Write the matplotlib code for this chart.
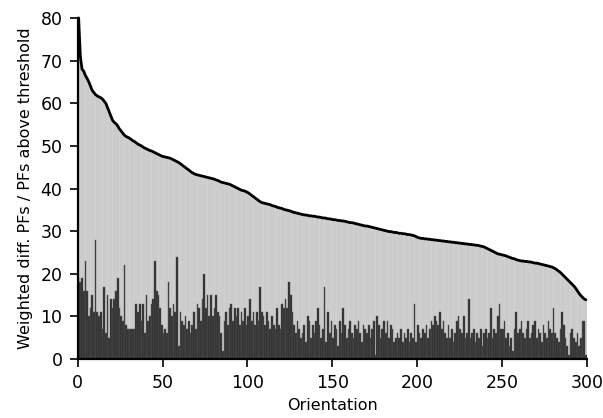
import numpy as np
import matplotlib
matplotlib.use("Agg")
import matplotlib.pyplot as plt

# Weighted difference of PFs per orientation (sorted, descending)
weighted_diff = [
    80.0, 71.0, 68.0, 67.5, 66.5, 65.8, 65.0, 64.0, 63.0, 62.5,
    62.0, 61.7, 61.5, 61.3, 61.0, 60.5, 60.0, 59.0, 58.0, 57.0,
    56.0, 55.5, 55.2, 54.7, 54.0, 53.5, 53.0, 52.5, 52.2, 52.0,
    51.8, 51.5, 51.2, 51.0, 50.7, 50.4, 50.2, 50.0, 49.7, 49.5,
    49.3, 49.1, 48.9, 48.8, 48.6, 48.4, 48.2, 48.0, 47.8, 47.6,
    47.5, 47.4, 47.3, 47.2, 47.1, 46.9, 46.7, 46.5, 46.3, 46.1,
    45.8, 45.5, 45.2, 44.9, 44.6, 44.3, 44.0, 43.7, 43.5, 43.3,
    43.2, 43.1, 43.0, 42.9, 42.8, 42.7, 42.6, 42.5, 42.4, 42.3,
    42.2, 42.0, 41.9, 41.7, 41.5, 41.4, 41.3, 41.2, 41.1, 41.0,
    40.8, 40.6, 40.4, 40.2, 40.0, 39.8, 39.6, 39.5, 39.4, 39.2,
    39.0, 38.7, 38.4, 38.1, 37.8, 37.5, 37.2, 36.9, 36.7, 36.6,
    36.5, 36.4, 36.3, 36.2, 36.0, 35.9, 35.8, 35.6, 35.5, 35.4,
    35.3, 35.1, 35.0, 34.9, 34.8, 34.7, 34.5, 34.4, 34.3, 34.2,
    34.1, 34.0, 33.9, 33.8, 33.8, 33.7, 33.6, 33.6, 33.5, 33.5,
    33.4, 33.3, 33.3, 33.2, 33.1, 33.1, 33.0, 32.9, 32.9, 32.8,
    32.7, 32.7, 32.6, 32.5, 32.5, 32.4, 32.4, 32.3, 32.2, 32.1,
    32.0, 32.0, 31.9, 31.8, 31.7, 31.6, 31.5, 31.4, 31.3, 31.2,
    31.2, 31.1, 31.0, 30.9, 30.8, 30.7, 30.6, 30.5, 30.4, 30.3,
    30.2, 30.1, 30.0, 29.9, 29.9, 29.8, 29.7, 29.7, 29.6, 29.5,
    29.5, 29.4, 29.4, 29.3, 29.2, 29.2, 29.1, 29.0, 28.9, 28.7,
    28.5, 28.4, 28.3, 28.3, 28.2, 28.2, 28.1, 28.1, 28.0, 28.0,
    27.9, 27.9, 27.8, 27.8, 27.7, 27.7, 27.6, 27.6, 27.5, 27.5,
    27.4, 27.4, 27.3, 27.3, 27.2, 27.2, 27.1, 27.1, 27.0, 27.0,
    26.9, 26.9, 26.8, 26.8, 26.7, 26.7, 26.6, 26.5, 26.4, 26.3,
    26.1, 25.9, 25.7, 25.5, 25.3, 25.1, 24.9, 24.7, 24.6, 24.5,
    24.4, 24.3, 24.2, 24.0, 23.9, 23.7, 23.6, 23.5, 23.3, 23.2,
    23.1, 23.0, 23.0, 22.9, 22.9, 22.8, 22.8, 22.7, 22.6, 22.5,
    22.5, 22.4, 22.3, 22.2, 22.1, 22.0, 21.9, 21.8, 21.7, 21.6,
    21.4, 21.2, 20.9, 20.6, 20.3, 19.9, 19.5, 19.1, 18.7, 18.3,
    17.9, 17.5, 17.1, 16.6, 16.0, 15.4, 14.9, 14.5, 14.1, 13.9,
]

# Number of PFs above threshold per orientation
pfs_above = [
    19, 18, 19, 16, 23, 16, 10, 12, 15, 11,
    28, 11, 10, 11, 7, 17, 6, 15, 5, 14,
    12, 14, 16, 19, 12, 10, 9, 22, 8, 7,
    7, 7, 7, 7, 13, 11, 13, 9, 13, 6,
    15, 9, 10, 13, 14, 23, 16, 15, 12, 8,
    6, 7, 6, 18, 12, 10, 13, 11, 24, 3,
    11, 9, 8, 10, 7, 9, 6, 8, 11, 7,
    13, 12, 9, 14, 20, 12, 15, 10, 15, 10,
    12, 15, 11, 10, 6, 2, 9, 11, 8, 12,
    13, 9, 12, 10, 12, 8, 11, 9, 12, 8,
    10, 14, 9, 11, 8, 11, 9, 17, 11, 10,
    8, 11, 9, 7, 10, 8, 7, 12, 8, 7,
    13, 12, 14, 12, 18, 15, 11, 8, 6, 9,
    7, 5, 6, 8, 4, 10, 9, 5, 8, 6,
    9, 12, 8, 5, 7, 17, 4, 11, 6, 9,
    5, 8, 7, 3, 9, 6, 12, 8, 5, 7,
    9, 6, 5, 8, 7, 9, 6, 4, 8, 7,
    6, 8, 5, 7, 9, 1, 10, 8, 5, 7,
    9, 6, 9, 5, 8, 7, 4, 5, 6, 5,
    7, 4, 6, 5, 7, 4, 6, 5, 13, 4,
    8, 6, 5, 7, 6, 8, 5, 7, 9, 8,
    10, 9, 8, 11, 7, 9, 6, 5, 8, 5,
    7, 4, 6, 9, 10, 7, 6, 10, 5, 6,
    14, 5, 6, 7, 4, 6, 5, 7, 3, 6,
    7, 5, 6, 12, 5, 7, 6, 10, 13, 7,
    7, 9, 5, 6, 3, 5, 2, 7, 11, 6,
    7, 9, 6, 5, 7, 9, 5, 6, 8, 9,
    5, 7, 6, 4, 8, 6, 5, 9, 7, 6,
    12, 6, 5, 4, 7, 11, 8, 5, 3, 1,
    6, 7, 5, 4, 6, 3, 5, 9, 9, 1,
]

x_ticks = [0, 50, 100, 150, 200, 250, 300]
y_ticks = [0, 10, 20, 30, 40, 50, 60, 70, 80]

fig = plt.figure(figsize=(6.03, 4.18), dpi=100)
ax = fig.add_axes([0.129, 0.141, 0.844, 0.816])

pos = np.arange(len(weighted_diff))
ax.bar(pos, weighted_diff, width=1.0, align="edge", color="#c8c8c8",
       edgecolor="#d9d9d9", linewidth=0.3, zorder=1)
ax.bar(pos, pfs_above, width=1.0, align="edge", color="#2f2f2f",
       edgecolor="#555555", linewidth=0.3, zorder=2)
ax.plot(pos + 0.5, weighted_diff, color="black", linewidth=2.0,
        solid_joinstyle="round", solid_capstyle="round", zorder=3, clip_on=False)

ax.set_xlim(0, 300)
ax.set_ylim(0, 80)
ax.set_xticks(x_ticks)
ax.set_yticks(y_ticks)

for side in ("top", "right"):
    ax.spines[side].set_visible(False)
for side in ("left", "bottom"):
    ax.spines[side].set_linewidth(1.6)
    ax.spines[side].set_zorder(4)

ax.tick_params(direction="out", length=6, width=1.2, labelsize=12.5, pad=5)
ax.set_xlabel("Orientation", fontsize=11.5, labelpad=4)
ax.set_ylabel("Weighted diff. PFs / PFs above threshold", fontsize=11.5, labelpad=5)

fig.savefig("out.png", dpi=100)
